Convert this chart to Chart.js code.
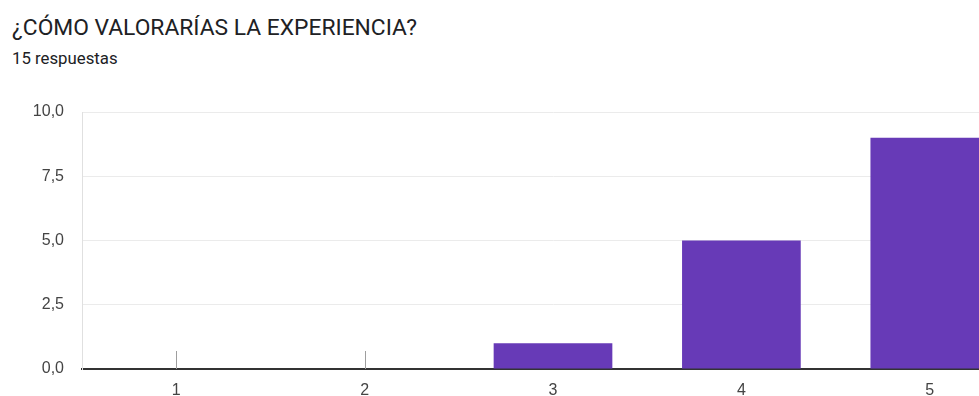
<!DOCTYPE html>
<html>
<head>
<meta charset="utf-8">
<script src="https://cdn.jsdelivr.net/npm/chart.js@4/dist/chart.umd.min.js"></script>
<style>
  html, body { margin: 0; padding: 0; background: #fff; overflow: hidden; width: 979px; height: 396px; }
  .title { position: absolute; left: 12px; top: 14px; font: 400 22.8px Roboto, sans-serif; color: #202124; white-space: nowrap; }
  .sub { position: absolute; left: 12px; top: 48px; font: 400 16.8px Roboto, sans-serif; color: #202124; white-space: nowrap; }
  .box { position: absolute; left: 0; top: 90px; width: 1030px; height: 306px; }
</style>
</head>
<body>
<div class="title">¿CÓMO VALORARÍAS LA EXPERIENCIA?</div>
<div class="sub">15 respuestas</div>
<div class="box"><canvas id="myChartBar"></canvas></div>
<script>
// datos
const categorias = ['1', '2', '3', '4', '5'];
const respuestas = [0, 0, 1, 5, 9];
const yTicks = [0, 2.5, 5, 7.5, 10];

// marca gris para las categorias con cero respuestas
const zeroMarks = {
    id: 'zeroMarks',
    afterDatasetsDraw(chart) {
        const ctx = chart.ctx;
        const x = chart.scales.x;
        const y = chart.scales.y;
        ctx.save();
        ctx.strokeStyle = '#9e9e9e';
        ctx.lineWidth = 1;
        respuestas.forEach((v, i) => {
            if (v === 0) {
                const px = Math.round(x.getPixelForValue(i)) + 0.5;
                ctx.beginPath();
                ctx.moveTo(px, y.getPixelForValue(0));
                ctx.lineTo(px, y.getPixelForValue(0) - 18);
                ctx.stroke();
            }
        });
        ctx.restore();
    }
};

new Chart(document.getElementById('myChartBar'), {
    type: 'bar',
    data: {
        labels: categorias,
        datasets: [{
            data: respuestas,
            backgroundColor: '#673ab7',
            barPercentage: 0.63,
            categoryPercentage: 1
        }]
    },
    options: {
        responsive: true,
        maintainAspectRatio: false,
        animation: false,
        layout: { padding: { top: 22, right: 6, left: 0, bottom: 0 } },
        plugins: { legend: { display: false }, tooltip: { enabled: false } },
        scales: {
            x: {
                grid: { display: false, drawTicks: false },
                border: { display: true, color: '#333', width: 2 },
                ticks: { color: '#444', font: { family: 'Liberation Sans, Arial', size: 16 }, padding: 12 },
                afterFit(s) { s.height = 27; }
            },
            y: {
                min: 0,
                max: 10,
                afterBuildTicks(s) { s.ticks = yTicks.map(v => ({ value: v })); },
                grid: { color: '#ebebeb', drawTicks: false },
                border: { display: true, color: '#e0e0e0' },
                ticks: {
                    color: '#444',
                    font: { family: 'Liberation Sans, Arial', size: 16 },
                    padding: 18,
                    callback: v => v.toFixed(1).replace('.', ',')
                },
                afterFit(s) { s.width = 82; s.paddingTop = 0; s.paddingBottom = 0; }
            }
        }
    },
    plugins: [zeroMarks]
});
</script>
</body>
</html>
